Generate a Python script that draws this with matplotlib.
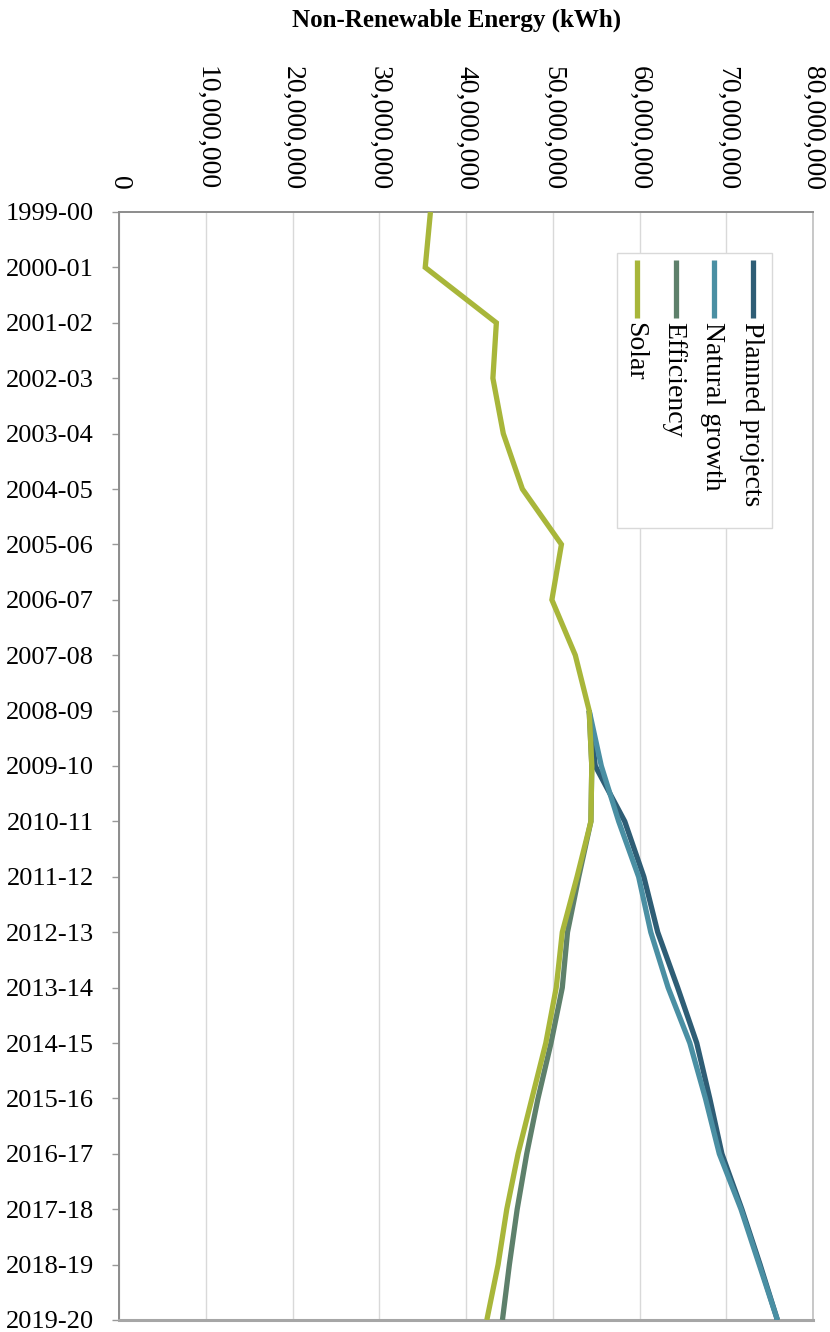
import numpy as np
import matplotlib
matplotlib.use("Agg")
import matplotlib.pyplot as plt
from matplotlib.lines import Line2D
from matplotlib.patches import Rectangle
from matplotlib.ticker import FuncFormatter

plt.rcParams['font.family'] = ['Liberation Serif', 'DejaVu Serif']

years = ["1999-00", "2000-01", "2001-02", "2002-03", "2003-04", "2004-05", "2005-06",
         "2006-07", "2007-08", "2008-09", "2009-10", "2010-11", "2011-12", "2012-13",
         "2013-14", "2014-15", "2015-16", "2016-17", "2017-18", "2018-19", "2019-20"]

NA = np.nan
solar = [35.9, 35.3, 43.5, 43.1, 44.3, 46.5, 51.0, 49.9, 52.6, 54.2, 54.5, 54.4,
         52.8, 51.1, 50.4, 49.2, 47.6, 46.0, 44.7, 43.7, 42.4]
efficiency = [NA, NA, NA, NA, NA, NA, NA, NA, NA, 54.2, 54.5, 54.4,
              53.0, 51.7, 51.1, 49.8, 48.3, 47.0, 45.9, 45.0, 44.2]
natural_growth = [NA, NA, NA, NA, NA, NA, NA, NA, NA, 54.2, 55.6, 57.6,
                  59.9, 61.3, 63.3, 65.8, 67.6, 69.2, 71.7, 73.8, 75.9]
planned_projects = [NA, NA, NA, NA, NA, NA, NA, NA, NA, 54.2, 54.9, 58.3,
                    60.5, 62.1, 64.4, 66.6, 68.1, 69.5, 71.8, 73.9, 75.9]

series_names = ["Planned projects", "Natural growth", "Efficiency", "Solar"]
series_vals = [planned_projects, natural_growth, efficiency, solar]
colors = ["#2e5d75", "#4a8fa3", "#5e806b", "#a8b63a"]

x_ticks = [0, 10e6, 20e6, 30e6, 40e6, 50e6, 60e6, 70e6, 80e6]
x_title = "Non-Renewable Energy (kWh)"

W, H = 830, 1332
fig = plt.figure(figsize=(W / 100, H / 100), dpi=100)
L, R, T, B = 119, 813, 212, 1320
ax = fig.add_axes([L / W, 1 - B / H, (R - L) / W, (B - T) / H])

idx = np.arange(len(years))
for name, vals, c in zip(series_names, series_vals, colors):
    ax.plot(np.array(vals) * 1e6, idx, color=c, lw=3.8, solid_joinstyle='miter',
            solid_capstyle='butt', zorder=3)

ax.set_xlim(0, 80e6)
ax.set_ylim(len(years) - 1, 0)
ax.set_xticks(x_ticks)
ax.xaxis.set_major_formatter(FuncFormatter(lambda v, p: f"{int(v):,}"))
ax.xaxis.tick_top()
ax.tick_params(axis='x', length=0, pad=16, labelsize=20, labelrotation=-90)
ax.set_yticks(idx)
ax.set_yticklabels(years)
ax.tick_params(axis='y', length=5, width=1, color='#999999', pad=13, labelsize=19)
ax.grid(axis='x', color='#d9d9d9', lw=1, zorder=0)
ax.set_axisbelow(True)

for s in ['top', 'left']:
    ax.spines[s].set_color('#8c8c8c')
    ax.spines[s].set_linewidth(1.4)
ax.spines['right'].set_color('#bfbfbf')
ax.spines['right'].set_linewidth(1.2)
ax.spines['bottom'].set_color('#a6a6a6')
ax.spines['bottom'].set_linewidth(2.2)

fig.text(457 / W, 1 - 20 / H, x_title, ha='center', va='center', fontsize=18,
         fontweight='bold')

# legend (rotated, drawn by hand)
def fx(px):
    return px / W

def fy(py):
    return 1 - py / H

box = Rectangle((fx(617), fy(528)), (772 - 617) / W, (528 - 253) / H,
                transform=fig.transFigure, facecolor='white', edgecolor='#d9d9d9',
                lw=1, zorder=5)
fig.add_artist(box)
leg_x = [753, 714, 676, 637]
for name, c, px in zip(series_names, colors, leg_x):
    fig.add_artist(Line2D([fx(px), fx(px)], [fy(260), fy(318)], transform=fig.transFigure,
                          color=c, lw=3.8, solid_capstyle='butt', zorder=6))
    fig.text(fx(px - 2), fy(322), name, rotation=-90, ha='center', va='top',
             fontsize=20, zorder=6)

fig.savefig("out.png", dpi=100)
